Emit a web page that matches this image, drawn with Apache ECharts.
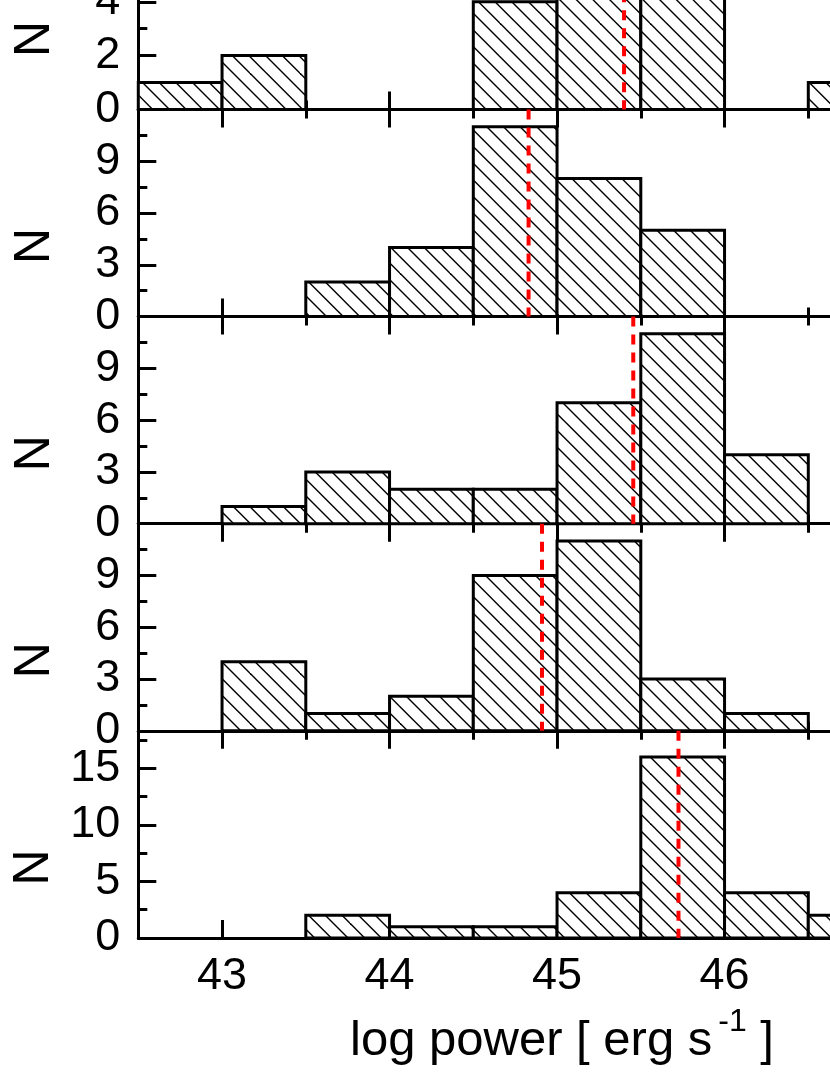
<!DOCTYPE html>
<html><head><meta charset="utf-8">
<script src="https://cdn.jsdelivr.net/npm/echarts@6/dist/echarts.min.js"></script>
<style>
html,body{margin:0;padding:0;background:#fff;overflow:hidden;width:830px;height:1075px;position:relative}
#c{position:absolute;left:0;top:-110px;width:900px;height:1185px}
</style>
</head><body><div id="c"></div>
<script>
// ---- data ----
const binStarts = [42.5, 43, 43.5, 44, 44.5, 45, 45.5, 46, 46.5];
const BIN_WIDTH = 0.5;
const counts1 = [1, 2, 0, 0, 4, 10, 12, 0, 1];
const counts2 = [0, 0, 2, 4, 11, 8, 5, 0, 0];
const counts3 = [0, 1, 3, 2, 2, 7, 11, 4, 0];
const counts4 = [0, 4, 1, 2, 9, 11, 3, 1, 0];
const counts5 = [0, 0, 2, 1, 1, 4, 16, 4, 2];
const meanLines = [45.40, 44.83, 45.455, 44.91, 45.725];
const xMajorTicks = [43, 44, 45, 46, 47];
const xLabels = [43, 44, 45, 46];
const xMinorTicks = [43.5, 44.5, 45.5, 46.5];
const yMaxes = [7.7, 12, 12, 12, 18.3];
const yMajorTicks = [[0, 2, 4, 6], [0, 3, 6, 9], [0, 3, 6, 9], [0, 3, 6, 9], [0, 5, 10, 15]];
const yMinorTicks = [[1, 3, 5, 7], [1.5, 4.5, 7.5, 10.5], [1.5, 4.5, 7.5, 10.5], [1.5, 4.5, 7.5, 10.5], [2.5, 7.5, 12.5, 17.5]];
const allCounts = [counts1, counts2, counts3, counts4, counts5];
const X_MIN = 42.5, X_MAX = 47;

// ---- layout ----
const OFF = 110; // chart container is shifted up by this many px (top panel is cropped)
const FONT = 'Liberation Sans, Arial, sans-serif';
const GRID_LEFT = 138.3, GRID_WIDTH = 753.75, PANEL_H = 207.15, FIRST_BOTTOM = 109.4 + OFF;

// hatch pattern
function makeHatch() {
  const s = 50, c = document.createElement('canvas');
  c.width = s; c.height = s;
  const g = c.getContext('2d');
  g.fillStyle = '#fff'; g.fillRect(0, 0, s, s);
  g.strokeStyle = '#000'; g.lineWidth = 1.4;
  const step = s / 3;
  for (let k = -4; k <= 4; k++) {
    const off = k * step;
    g.beginPath(); g.moveTo(off - 2, -2); g.lineTo(off + s + 2, s + 2); g.stroke();
  }
  return c;
}
const hatch = { image: makeHatch(), repeat: 'repeat' };

const grids = [], xAxes = [], yAxes = [], series = [];
const lineSt = { color: '#000', width: 3 };

for (let k = 0; k < 5; k++) {
  const top = FIRST_BOTTOM - PANEL_H + k * PANEL_H;
  grids.push({ left: GRID_LEFT, top: top, width: GRID_WIDTH, height: PANEL_H, containLabel: false });
  const isLast = k === 4;
  const base = { type: 'value', gridIndex: k, min: X_MIN, max: X_MAX, splitLine: { show: false } };
  const xMain = xAxes.length;
  xAxes.push(Object.assign({}, base, {
    position: 'bottom',
    axisLine: { show: true, onZero: false, lineStyle: lineSt },
    axisTick: { show: true, inside: true, length: 18, lineStyle: lineSt, customValues: xMajorTicks },
    axisLabel: { show: isLast, customValues: xLabels, fontSize: 45, color: '#000', fontFamily: FONT, margin: 16, showMinLabel: true, showMaxLabel: true }
  }));
  xAxes.push(Object.assign({}, base, {
    position: 'bottom',
    axisLine: { show: false, onZero: false },
    axisTick: { show: true, inside: true, length: 9, lineStyle: lineSt, customValues: xMinorTicks },
    axisLabel: { show: false }
  }));
  xAxes.push(Object.assign({}, base, {
    position: 'top',
    axisLine: { show: true, onZero: false, lineStyle: lineSt },
    axisTick: { show: true, inside: true, length: 18, lineStyle: lineSt, customValues: xMajorTicks },
    axisLabel: { show: false }
  }));
  xAxes.push(Object.assign({}, base, {
    position: 'top',
    axisLine: { show: false, onZero: false },
    axisTick: { show: true, inside: true, length: 9, lineStyle: lineSt, customValues: xMinorTicks },
    axisLabel: { show: false }
  }));
  const yMain = yAxes.length;
  yAxes.push({
    type: 'value', gridIndex: k, min: 0, max: yMaxes[k], position: 'left',
    splitLine: { show: false },
    axisLine: { show: true, onZero: false, lineStyle: lineSt },
    axisTick: { show: true, inside: true, length: 18, lineStyle: lineSt, customValues: yMajorTicks[k] },
    axisLabel: { show: true, customValues: yMajorTicks[k], fontSize: 45, color: '#000', fontFamily: FONT, margin: 18, showMinLabel: true, showMaxLabel: true },
    name: 'N', nameLocation: 'middle', nameGap: 78, nameRotate: 90,
    nameTextStyle: { fontSize: 50, color: '#000', fontFamily: FONT, padding: [0, 66, 0, 0] }
  });
  yAxes.push({
    type: 'value', gridIndex: k, min: 0, max: yMaxes[k], position: 'left',
    splitLine: { show: false },
    axisLine: { show: false, onZero: false },
    axisTick: { show: true, inside: true, length: 9, lineStyle: lineSt, customValues: yMinorTicks[k] },
    axisLabel: { show: false }
  });
  const data = binStarts.map((s, i) => [s, s + BIN_WIDTH, allCounts[k][i]]).filter(d => d[2] > 0);
  series.push({
    type: 'custom', xAxisIndex: xMain, yAxisIndex: yMain, data: data,
    encode: { x: [0, 1], y: 2 },
    renderItem: function (params, api) {
      const p0 = api.coord([api.value(0), api.value(2)]);
      const p1 = api.coord([api.value(1), 0]);
      return {
        type: 'rect',
        shape: { x: p0[0], y: p0[1], width: p1[0] - p0[0], height: p1[1] - p0[1] },
        style: { fill: hatch, stroke: '#000', lineWidth: 3 }
      };
    },
    z: 2
  });
  series.push({
    type: 'line', xAxisIndex: xMain, yAxisIndex: yMain,
    data: [[meanLines[k], yMaxes[k]], [meanLines[k], 0]],
    symbol: 'none', z: 5,
    lineStyle: { color: '#ff0000', width: 4, type: [10, 8] }
  });
}

const chart = echarts.init(document.getElementById('c'), null, { renderer: 'canvas' });
chart.setOption({
  animation: false,
  backgroundColor: '#fff',
  grid: grids, xAxis: xAxes, yAxis: yAxes, series: series,
  graphic: [{
    type: 'text', x: 562, y: 1041 + OFF,
    style: {
      text: '{a|log power [ erg s}{b|-1}{a| ]}',
      align: 'center', verticalAlign: 'middle', fill: '#000',
      fontFamily: FONT, fontSize: 49,
      rich: {
        a: { fontSize: 49, lineHeight: 70, fontFamily: FONT, fill: '#000' },
        b: { fontSize: 32, lineHeight: 32, fontFamily: FONT, fill: '#000', verticalAlign: 'top', padding: [0, 0, 0, 6] }
      }
    }
  }]
});
</script></body></html>
